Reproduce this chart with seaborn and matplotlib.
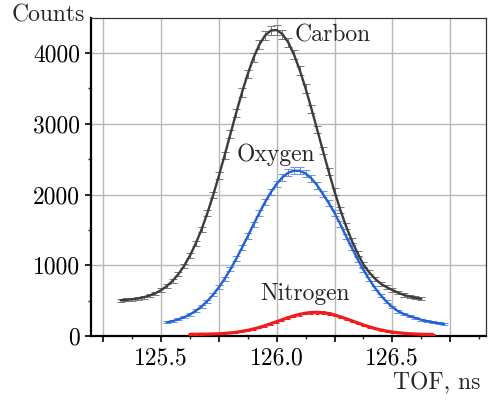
import numpy as np
import matplotlib
matplotlib.use("Agg")
import matplotlib.pyplot as plt
from matplotlib.ticker import MultipleLocator, FuncFormatter
import seaborn as sns

# ---- data ----
carbon_x = [125.325, 125.35, 125.375, 125.4, 125.425, 125.45, 125.475, 125.5, 125.525, 125.55,
            125.575, 125.6, 125.625, 125.65, 125.675, 125.7, 125.725, 125.75, 125.775, 125.8,
            125.825, 125.85, 125.875, 125.9, 125.925, 125.95, 125.975, 126.0, 126.025, 126.05,
            126.075, 126.1, 126.125, 126.15, 126.175, 126.2, 126.225, 126.25, 126.275, 126.3,
            126.325, 126.35, 126.375, 126.4, 126.425, 126.45, 126.475, 126.5, 126.525, 126.55,
            126.575, 126.6, 126.625]
carbon_y = [505, 511, 519, 531, 548, 572, 604, 648, 706, 780,
            875, 993, 1137, 1308, 1507, 1735, 1989, 2265, 2557, 2857,
            3156, 3443, 3706, 3935, 4119, 4249, 4318, 4325, 4267, 4149,
            3976, 3755, 3498, 3215, 2918, 2617, 2322, 2043, 1784, 1551,
            1345, 1168, 1010, 900, 810, 740, 690, 650, 612, 580,
            558, 540, 525]

oxygen_x = [125.525, 125.55, 125.575, 125.6, 125.625, 125.65, 125.675, 125.7, 125.725, 125.75,
            125.775, 125.8, 125.825, 125.85, 125.875, 125.9, 125.925, 125.95, 125.975, 126.0,
            126.025, 126.05, 126.075, 126.1, 126.125, 126.15, 126.175, 126.2, 126.225, 126.25,
            126.275, 126.3, 126.325, 126.35, 126.375, 126.4, 126.425, 126.45, 126.475, 126.5,
            126.525, 126.55, 126.575, 126.6, 126.625, 126.65, 126.675, 126.7, 126.725]
oxygen_y = [193, 211, 235, 266, 305, 356, 418, 493, 583, 689,
            809, 943, 1091, 1248, 1412, 1578, 1740, 1894, 2033, 2151,
            2244, 2307, 2337, 2334, 2297, 2227, 2129, 2006, 1880, 1740,
            1580, 1410, 1245, 1085, 935, 800, 680, 575, 485, 410,
            350, 310, 280, 255, 230, 210, 193, 180, 170]

nitrogen_x = [125.625, 125.65, 125.675, 125.7, 125.725, 125.75, 125.775, 125.8, 125.825, 125.85,
              125.875, 125.9, 125.925, 125.95, 125.975, 126.0, 126.025, 126.05, 126.075, 126.1,
              126.125, 126.15, 126.175, 126.2, 126.225, 126.25, 126.275, 126.3, 126.325, 126.35,
              126.375, 126.4, 126.425, 126.45, 126.475, 126.5, 126.525, 126.55, 126.575, 126.6,
              126.625, 126.65, 126.675]
nitrogen_y = [24, 25, 26, 27, 29, 32, 37, 44, 53, 66,
              81, 100, 121, 146, 174, 203, 232, 260, 286, 307,
              323, 333, 335, 329, 317, 297, 273, 245, 215, 185,
              156, 130, 106, 86, 69, 56, 46, 38, 32, 28,
              25, 23, 22]

series_names = ["Carbon", "Oxygen", "Nitrogen"]
x_tick_labels = ["125.5", "126.0", "126.5"]
y_tick_labels = ["0", "1000", "2000", "3000", "4000"]

# ---- style ----
sns.set_style("white")
plt.rcParams["font.family"] = ["cmr10", "DejaVu Serif"]
plt.rcParams["mathtext.fontset"] = "cm"
plt.rcParams["axes.formatter.use_mathtext"] = True

FS = 17

fig = plt.figure(figsize=(4.89, 4.0), dpi=100)
ax = fig.add_axes([91 / 489, 1 - 336 / 400, (486 - 91) / 489, (336 - 18) / 400])

c_carbon = "#3e3b39"
c_oxygen = "#2160d9"
c_nitrogen = "#f21c1c"

# error bars (Poisson)
ax.errorbar(carbon_x, carbon_y, yerr=np.sqrt(carbon_y), fmt="none",
            ecolor="#7a7674", elinewidth=0.7, capsize=2.8, capthick=0.7, zorder=3)
ax.errorbar(oxygen_x, oxygen_y, yerr=np.sqrt(oxygen_y), fmt="none",
            ecolor="#6a94ea", elinewidth=0.7, capsize=2.8, capthick=0.7, zorder=3)
ax.errorbar(nitrogen_x, nitrogen_y, yerr=np.sqrt(nitrogen_y), fmt="none",
            ecolor=c_nitrogen, elinewidth=0.7, capsize=1.5, capthick=0.7, zorder=3)

sns.lineplot(x=carbon_x, y=carbon_y, ax=ax, color=c_carbon, lw=1.7, zorder=4)
sns.lineplot(x=oxygen_x, y=oxygen_y, ax=ax, color=c_oxygen, lw=1.7, zorder=4)
sns.lineplot(x=nitrogen_x, y=nitrogen_y, ax=ax, color=c_nitrogen, lw=2.3, zorder=4)

ax.set_xlim(125.197, 126.905)
ax.set_ylim(0, 4495)

# ticks
ax.xaxis.set_major_locator(MultipleLocator(0.25))
ax.xaxis.set_minor_locator(MultipleLocator(0.125))
ax.yaxis.set_major_locator(MultipleLocator(1000))
ax.yaxis.set_minor_locator(MultipleLocator(500))


def xfmt(v, pos):
    s = f"{v:.1f}"
    return s if (abs(v * 2 - round(v * 2)) < 1e-6 and s in x_tick_labels) else ""


def yfmt(v, pos):
    s = f"{int(round(v))}"
    return s if s in y_tick_labels else ""


ax.xaxis.set_major_formatter(FuncFormatter(xfmt))
ax.yaxis.set_major_formatter(FuncFormatter(yfmt))
ax.tick_params(axis="both", which="major", direction="out", length=4, width=1.2,
               labelsize=FS, colors="black")
ax.tick_params(axis="both", which="minor", direction="out", length=2.5, width=1.0)
ax.tick_params(axis="x", which="both", bottom=True, top=False, pad=4)
ax.tick_params(axis="y", which="both", left=True, right=False, pad=4)

ax.grid(True, which="major", color="#b8b8b8", lw=1.0, zorder=0)

for side in ["left", "bottom"]:
    ax.spines[side].set_linewidth(1.6)
    ax.spines[side].set_color("black")
for side in ["top", "right"]:
    ax.spines[side].set_visible(True)
    ax.spines[side].set_linewidth(0.9)
    ax.spines[side].set_color("#333333")

# annotations
ax.text(126.076, 4254, series_names[0], fontsize=FS, ha="left", va="center", zorder=5)
ax.text(125.826, 2558, series_names[1], fontsize=FS, ha="left", va="center", zorder=5)
ax.text(125.930, 594, series_names[2], fontsize=FS, ha="left", va="center", zorder=5)

ax.text(-0.015, 1.008, "Counts", transform=ax.transAxes, fontsize=FS,
        ha="right", va="center")
ax.text(0.987, -0.148, "TOF, ns", transform=ax.transAxes, fontsize=FS,
        ha="right", va="center")

fig.savefig("out.png", dpi=100)
